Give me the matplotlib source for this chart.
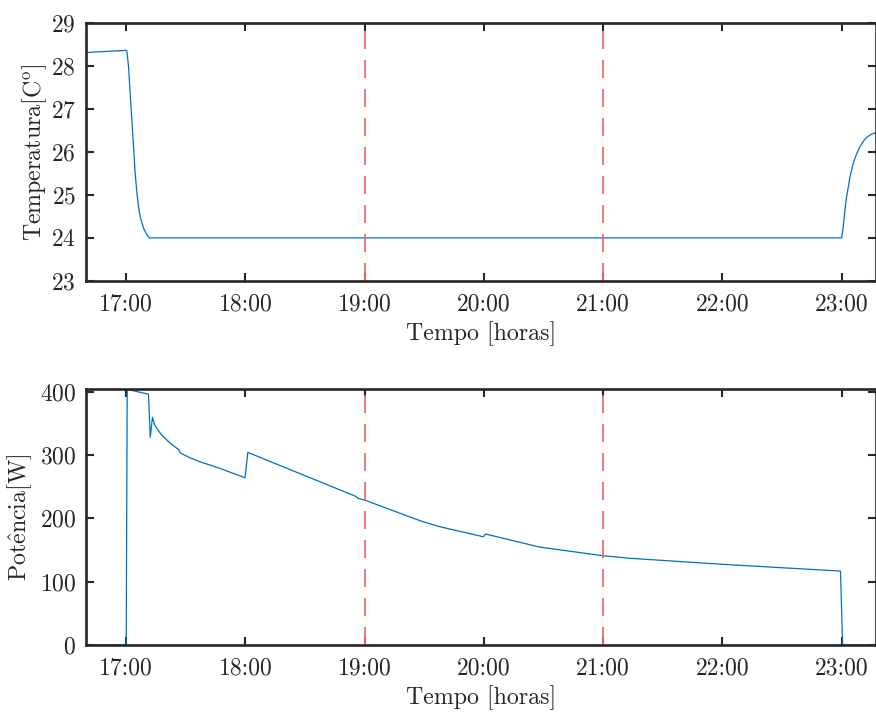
import matplotlib
matplotlib.use("Agg")
import matplotlib.pyplot as plt
import numpy as np

plt.rcParams['font.family'] = ['cmr10', 'DejaVu Serif']
plt.rcParams['mathtext.fontset'] = 'cm'
plt.rcParams['axes.formatter.use_mathtext'] = True

# minutos a partir das 17:00
t_temp = [-20, 0, 0.33, 1.17, 2.0, 2.85, 3.7, 4.5, 5.4, 6.2, 7.0, 8.7, 10.4, 11.7,
          360, 360.8, 361.66, 362.5, 364.2, 365.8, 367.5, 369.2, 371, 372.6, 375, 378]
temp = [28.31, 28.36, 28.35, 27.98, 27.36, 26.74, 26.12, 25.50, 25.04, 24.73, 24.50,
        24.23, 24.07, 24.0, 24.0, 24.26, 24.65, 24.96, 25.42, 25.73, 25.95, 26.12,
        26.25, 26.34, 26.41, 26.46]

t_pot = [-20, 0, 0.5, 11.2, 12.1, 13.2, 14.2, 15.4, 17.8, 20.5, 23.3, 26.3, 27.2, 32.0,
         37.2, 47.3, 59.8, 61.2, 115.2, 116.8, 120, 147.9, 157.9, 179.7, 180.9, 208,
         240, 253.5, 300.4, 359.4, 360.5, 378]
pot = [0, 0, 404, 396.3, 328, 359.5, 349, 342, 332, 323.7, 316, 309, 303.6, 296,
       289.4, 279, 264.2, 304.3, 235.3, 231.6, 229, 196.3, 186.8, 171, 175.3, 154.7,
       141, 137, 127.4, 116.8, 0, 0]

marcos = [19, 21]
horas = [17, 18, 19, 20, 21, 22, 23]
rotulos_horas = ['17:00', '18:00', '19:00', '20:00', '21:00', '22:00', '23:00']

azul = '#0072BD'
cinza = '#262626'

fig = plt.figure(figsize=(8.76, 7.13), dpi=100)
ax1 = fig.add_axes([0.0987, 0.606, 0.9018, 0.362])
ax2 = fig.add_axes([0.0987, 0.0954, 0.9018, 0.359])

x_temp = 17 + np.array(t_temp) / 60
x_pot = 17 + np.array(t_pot) / 60

ax1.plot(x_temp, temp, color=azul, linewidth=0.9)
ax2.plot(x_pot, pot, color=azul, linewidth=0.9)

for ax in (ax1, ax2):
    for m in marcos:
        ax.axvline(m, color='#f06a6a', linewidth=1.44, dashes=(9, 5.5), alpha=0.9)
    ax.set_xlim(16 + 40 / 60, 17 + 377.5 / 60)
    ax.set_xticks(horas)
    ax.set_xticklabels(rotulos_horas)
    ax.tick_params(direction='in', top=True, right=True, length=5.5, width=1.5,
                   color=cinza, labelcolor=cinza, labelsize=17, pad=7.5)
    ax.tick_params(axis='x', pad=9)
    for s in ax.spines.values():
        s.set_linewidth(1.9)
        s.set_color(cinza)
    ax.set_xlabel('Tempo [horas]', fontsize=17.2, color=cinza, labelpad=4)

ax1.set_ylim(23, 29)
ax1.set_yticks([23, 24, 25, 26, 27, 28, 29])
ax1.set_ylabel(r'Temperatura[C$^{\rm o}$]', fontsize=17.2, color=cinza, labelpad=1)

ax2.set_ylim(0, 404.5)
ax2.set_yticks([0, 100, 200, 300, 400])
ax2.set_ylabel(r'$\mathrm{Pot\hat{e}ncia[W]}$', fontsize=17.2, color=cinza, labelpad=4)

fig.savefig('out.png', dpi=100)
